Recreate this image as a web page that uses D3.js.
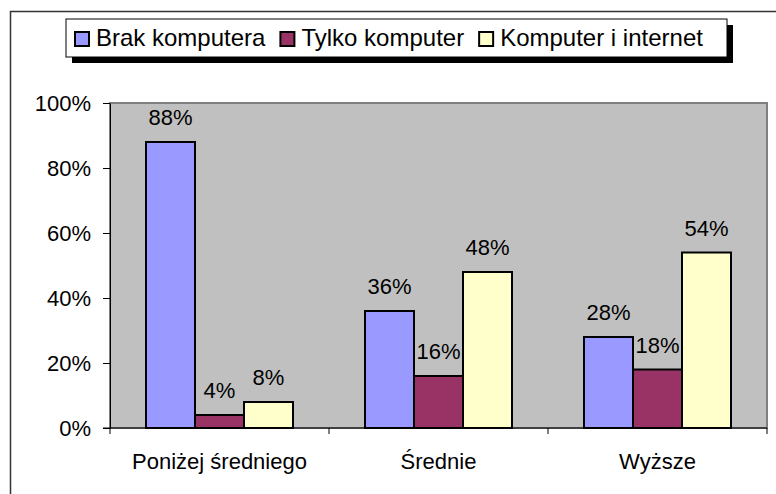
<!DOCTYPE html>
<html>
<head>
<meta charset="utf-8">
<script src="https://cdn.jsdelivr.net/npm/d3@7"></script>
<style>
  body { margin: 0; background: #fff; }
  text { font-family: "Liberation Sans", Arial, sans-serif; fill: #000; }
</style>
</head>
<body>
<div id="chart"></div>
<script>
// data
var categories = ["Poniżej średniego", "Średnie", "Wyższe"];
var seriesNames = ["Brak komputera", "Tylko komputer", "Komputer i internet"];
var seriesColors = ["#9999ff", "#993366", "#ffffcc"];
var brakKomputera = [0.88, 0.36, 0.28];
var tylkoKomputer = [0.04, 0.16, 0.18];
var komputerInternet = [0.08, 0.48, 0.54];
var yTicks = [0, 0.2, 0.4, 0.6, 0.8, 1.0];

var seriesValues = [brakKomputera, tylkoKomputer, komputerInternet];

// plot area
var plot = {left: 110, right: 767, top: 103, bottom: 428};

var svg = d3.select("#chart")
  .append("svg")
    .attr("width", 776)
    .attr("height", 494);

// outer frame
svg.append("rect")
  .attr("x", 10.5).attr("y", 11.5)
  .attr("width", 800).attr("height", 500)
  .attr("fill", "none")
  .attr("stroke", "#333")
  .attr("stroke-width", 1.5);

// scales
var x0 = d3.scaleBand()
  .domain(categories)
  .range([plot.left, plot.right]);

var x1 = d3.scaleBand()
  .domain(seriesNames)
  .range([36, x0.bandwidth() - 36]);

var y = d3.scaleLinear()
  .domain([0, 1])
  .range([plot.bottom, plot.top]);

// grey plot background
svg.append("rect")
  .attr("x", plot.left).attr("y", plot.top)
  .attr("width", plot.right - plot.left)
  .attr("height", plot.bottom - plot.top)
  .attr("fill", "#c0c0c0")
  .attr("stroke", "#808080")
  .attr("stroke-width", 2);

// Y axis
var yAxis = svg.append("g")
  .attr("transform", "translate(" + plot.left + ",0)")
  .call(d3.axisLeft(y)
    .tickValues(yTicks)
    .tickFormat(d3.format(".0%"))
    .tickSize(7)
    .tickPadding(12)
    .tickSizeOuter(0));
yAxis.selectAll("text").style("font-size", "22px").attr("font-family", null);
yAxis.select(".domain").attr("stroke", "#000");
yAxis.selectAll(".tick line").attr("stroke", "#000");

// bars
var groups = svg.append("g")
  .selectAll("g")
  .data(categories)
  .enter()
  .append("g")
    .attr("transform", function(d) { return "translate(" + x0(d) + ",0)"; });

var barData = function(c, i) {
  return seriesNames.map(function(s, k) {
    return {series: s, value: seriesValues[k][i], color: seriesColors[k]};
  });
};

groups.selectAll("rect")
  .data(barData)
  .enter()
  .append("rect")
    .attr("x", function(d) { return x1(d.series); })
    .attr("y", function(d) { return y(d.value); })
    .attr("width", x1.bandwidth())
    .attr("height", function(d) { return plot.bottom - y(d.value); })
    .attr("fill", function(d) { return d.color; })
    .attr("stroke", "#000")
    .attr("stroke-width", 2);

// value labels
groups.selectAll("text")
  .data(barData)
  .enter()
  .append("text")
    .attr("x", function(d) { return x1(d.series) + x1.bandwidth() / 2; })
    .attr("y", function(d) { return y(d.value) - 17; })
    .attr("text-anchor", "middle")
    .style("font-size", "22px")
    .text(function(d) { return d3.format(".0%")(d.value); });

// X axis line, ticks on band edges, labels centred
svg.append("line")
  .attr("x1", plot.left - 7).attr("x2", plot.right)
  .attr("y1", plot.bottom).attr("y2", plot.bottom)
  .attr("stroke", "#000");

var edges = categories.map(function(c) { return x0(c); }).concat([plot.right]);
svg.append("g")
  .selectAll("line")
  .data(edges)
  .enter()
  .append("line")
    .attr("x1", function(d) { return d; })
    .attr("x2", function(d) { return d; })
    .attr("y1", plot.bottom)
    .attr("y2", plot.bottom + 6)
    .attr("stroke", "#000");

svg.append("g")
  .selectAll("text")
  .data(categories)
  .enter()
  .append("text")
    .attr("x", function(d) { return x0(d) + x0.bandwidth() / 2; })
    .attr("y", 469)
    .attr("text-anchor", "middle")
    .style("font-size", "22px")
    .text(function(d) { return d; });

// legend
var legend = {left: 66, top: 19, right: 727, bottom: 57};
svg.append("rect")
  .attr("x", legend.left + 6).attr("y", legend.top + 6)
  .attr("width", legend.right - legend.left)
  .attr("height", legend.bottom - legend.top)
  .attr("fill", "#000");
svg.append("rect")
  .attr("x", legend.left).attr("y", legend.top)
  .attr("width", legend.right - legend.left)
  .attr("height", legend.bottom - legend.top)
  .attr("fill", "#fff")
  .attr("stroke", "#000")
  .attr("stroke-width", 1);

var lx = 75;
seriesNames.forEach(function(name, k) {
  svg.append("rect")
    .attr("x", lx).attr("y", 32)
    .attr("width", 14).attr("height", 14)
    .attr("fill", seriesColors[k])
    .attr("stroke", "#000")
    .attr("stroke-width", 2);
  var t = svg.append("text")
    .attr("x", lx + 21)
    .attr("y", 46)
    .style("font-size", "24px")
    .text(name);
  lx += 21 + t.node().getComputedTextLength() + 15;
});
</script>
</body>
</html>
